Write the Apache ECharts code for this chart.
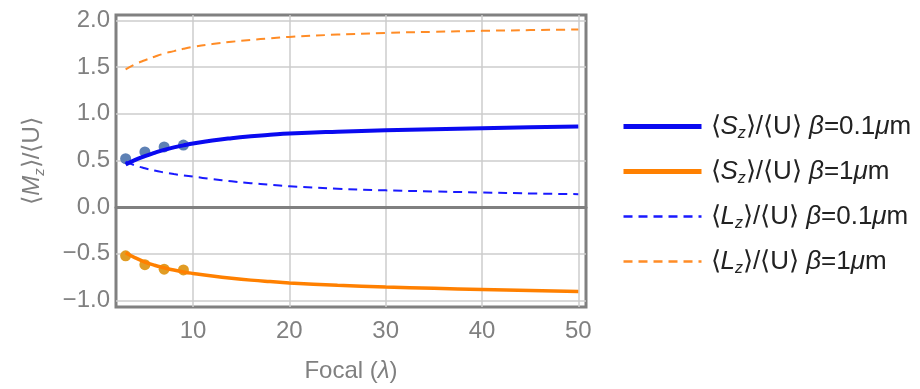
<!DOCTYPE html>
<html>
<head>
<meta charset="utf-8">
<script src="https://cdn.jsdelivr.net/npm/echarts@6/dist/echarts.min.js"></script>
<style>
  html, body { margin: 0; padding: 0; background: #fff; }
  #chart { width: 920px; height: 389px; }
</style>
</head>
<body>
<div id="chart"></div>
<script>
// focal length (in wavelengths)
const focal = [3, 4, 5, 6, 7, 8, 9, 10, 12, 14, 16, 18, 20, 25, 30, 35, 40, 45, 50]
// <Sz>/<U> and <Lz>/<U> curves
const sz01 = [0.455, 0.505, 0.545, 0.58, 0.612, 0.638, 0.66, 0.68, 0.712, 0.737, 0.757, 0.773, 0.787, 0.807, 0.822, 0.834, 0.844, 0.853, 0.861]
const sz1 = [-0.49, -0.545, -0.59, -0.625, -0.652, -0.676, -0.696, -0.712, -0.74, -0.764, -0.784, -0.8, -0.814, -0.838, -0.857, -0.872, -0.885, -0.896, -0.905]
const lz01 = [0.485, 0.445, 0.415, 0.39, 0.37, 0.352, 0.337, 0.325, 0.298, 0.275, 0.255, 0.238, 0.222, 0.196, 0.178, 0.166, 0.155, 0.145, 0.137]
const lz1 = [1.475, 1.53, 1.572, 1.61, 1.644, 1.67, 1.695, 1.715, 1.745, 1.77, 1.79, 1.807, 1.822, 1.847, 1.865, 1.877, 1.887, 1.895, 1.902]
// simulated points
const dotFocal = [3, 5, 7, 9]
const dots01 = [0.517, 0.59, 0.643, 0.663]
const dots1 = [-0.524, -0.618, -0.667, -0.675]

const legendText = {
  sz01: '⟨{i|S}{sub|z}⟩/⟨U⟩ {i|β}=0.1{i|μ}m',
  sz1: '⟨{i|S}{sub|z}⟩/⟨U⟩ {i|β}=1{i|μ}m',
  lz01: '⟨{i|L}{sub|z}⟩/⟨U⟩ {i|β}=0.1{i|μ}m',
  lz1: '⟨{i|L}{sub|z}⟩/⟨U⟩ {i|β}=1{i|μ}m'
}

function pairs(xs, ys) {
  return xs.map((x, i) => [x, ys[i]])
}

const font = 'Liberation Sans, Arial, sans-serif'
const gray = '#808080'
const gridColor = '#cccccc'

const myChart = echarts.init(document.getElementById('chart'))
const option = {
  animation: false,
  grid: {
    left: 116,
    top: 15,
    width: 470,
    height: 292,
    show: true,
    borderColor: gray,
    borderWidth: 3
  },
  legend: {
    left: 621,
    top: 111,
    padding: 0,
    orient: 'vertical',
    itemWidth: 78,
    itemHeight: 16,
    itemGap: 14,
    data: [
      { name: 'sz01', itemStyle: { opacity: 0 }, lineStyle: { width: 5 } },
      { name: 'sz1', itemStyle: { opacity: 0 }, lineStyle: { width: 5 } },
      { name: 'lz01', itemStyle: { opacity: 0 }, lineStyle: { width: 2.5 } },
      { name: 'lz1', itemStyle: { opacity: 0 }, lineStyle: { width: 2.5 } }
    ],
    formatter: function (name) {
      return legendText[name]
    },
    textStyle: {
      fontFamily: font,
      fontSize: 26,
      color: '#222',
      lineHeight: 31,
      padding: [0, 0, 0, 4],
      rich: {
        i: { fontFamily: font, fontSize: 26, fontStyle: 'italic', color: '#222', lineHeight: 31 },
        sub: { fontFamily: font, fontSize: 16, fontStyle: 'italic', color: '#222', lineHeight: 16, verticalAlign: 'bottom' }
      }
    }
  },
  xAxis: [
    {
      type: 'value',
      min: 2,
      max: 50.8,
      splitNumber: 5,
      axisLine: { show: false, onZero: false },
      axisTick: { show: false },
      axisLabel: {
        showMinLabel: false,
        showMaxLabel: false,
        fontFamily: font,
        fontSize: 24,
        color: gray,
        margin: 12
      },
      splitLine: { show: true, showMinLine: false, showMaxLine: false, lineStyle: { color: gridColor, width: 1.5 } },
      name: 'Focal ({i|λ})',
      nameLocation: 'middle',
      nameGap: 52,
      nameTextStyle: {
        fontFamily: font,
        fontSize: 24,
        color: gray,
        rich: {
          i: { fontFamily: font, fontSize: 24, fontStyle: 'italic', color: gray }
        }
      }
    },
    {
      // zero line
      type: 'value',
      min: 2,
      max: 50.8,
      axisLine: { show: true, onZero: true, lineStyle: { color: gray, width: 3 } },
      axisTick: { show: false },
      axisLabel: { show: false },
      splitLine: { show: false }
    }
  ],
  yAxis: {
    type: 'value',
    min: -1.072,
    max: 2.057,
    splitNumber: 6,
    axisLine: { show: false },
    axisTick: { show: false },
    axisLabel: {
      showMinLabel: false,
      showMaxLabel: false,
      fontFamily: font,
      fontSize: 24,
      color: gray,
      margin: 6,
      formatter: function (v) {
        const s = Math.abs(v).toFixed(1)
        return v < -1e-9 ? '\u2212' + s : s
      }
    },
    splitLine: { show: true, showMinLine: false, showMaxLine: false, lineStyle: { color: gridColor, width: 1.5 } },
    name: '⟨{i|M}{sub|z}⟩/⟨U⟩',
    nameLocation: 'middle',
    nameGap: 69,
    nameRotate: 90,
    nameTextStyle: {
      fontFamily: font,
      fontSize: 24,
      color: gray,
      lineHeight: 30,
      rich: {
        i: { fontFamily: font, fontSize: 24, fontStyle: 'italic', color: gray, lineHeight: 30 },
        sub: { fontFamily: font, fontSize: 15, fontStyle: 'italic', color: gray, lineHeight: 15, verticalAlign: 'bottom' }
      }
    }
  },
  series: [
    {
      name: 'lz1',
      type: 'line',
      smooth: true,
      symbol: 'none',
      data: pairs(focal, lz1),
      color: '#ff8c26',
      lineStyle: { color: '#ff8c26', width: 2, type: [9, 6] }
    },
    {
      name: 'lz01',
      type: 'line',
      smooth: true,
      symbol: 'none',
      data: pairs(focal, lz01),
      color: '#1a1aff',
      lineStyle: { color: '#1a1aff', width: 2, type: [9, 6] }
    },
    {
      name: 'sz1',
      type: 'line',
      smooth: true,
      symbol: 'none',
      data: pairs(focal, sz1),
      color: '#ff8000',
      lineStyle: { color: '#ff8000', width: 3.5 }
    },
    {
      name: 'sz01',
      type: 'line',
      smooth: true,
      symbol: 'none',
      data: pairs(focal, sz01),
      color: '#0a0af0',
      lineStyle: { color: '#0a0af0', width: 4 }
    },
    {
      name: 'dots01',
      type: 'scatter',
      symbolSize: 11,
      data: pairs(dotFocal, dots01),
      itemStyle: { color: '#5e81b5', opacity: 1 }
    },
    {
      name: 'dots1',
      type: 'scatter',
      symbolSize: 11,
      data: pairs(dotFocal, dots1),
      itemStyle: { color: '#e19c24', opacity: 1 }
    }
  ]
}
myChart.setOption(option)
window.addEventListener('resize', function () {
  myChart.resize()
})
</script>
</body>
</html>
